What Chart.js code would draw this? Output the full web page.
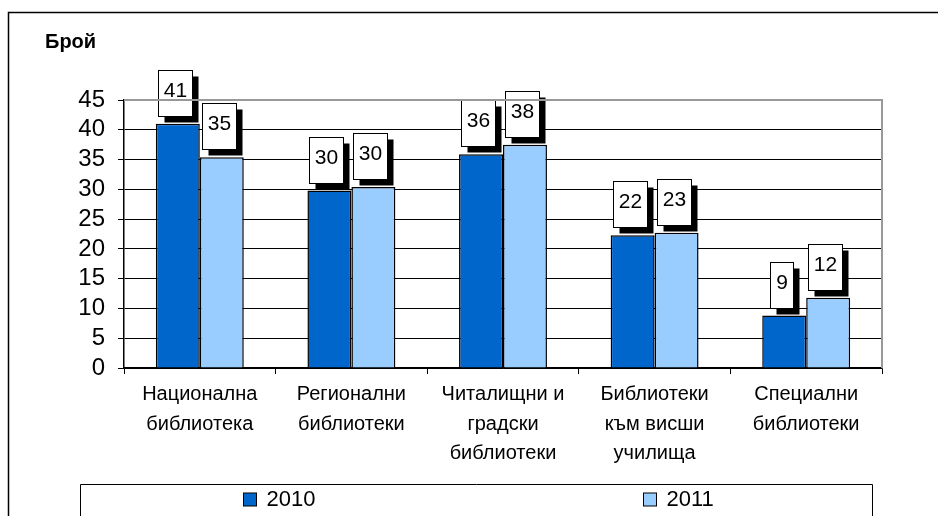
<!DOCTYPE html>
<html>
<head>
<meta charset="utf-8">
<script src="https://cdn.jsdelivr.net/npm/chart.js@4.4.0/dist/chart.umd.min.js"></script>
<style>
html,body{margin:0;padding:0;background:#fff;}
#wrap{width:938px;height:516px;position:relative;}
</style>
</head>
<body>
<div id="wrap"><canvas id="c" width="938" height="516"></canvas></div>
<script>
const categories = [
  ['Национална', 'библиотека'],
  ['Регионални', 'библиотеки'],
  ['Читалищни и', 'градски', 'библиотеки'],
  ['Библиотеки', 'към висши', 'училища'],
  ['Специални', 'библиотеки']
];
const seriesNames = ['2010', '2011'];
const values2010 = [41, 29.8, 35.9, 22.3, 8.8];
const values2011 = [35.4, 30.4, 37.5, 22.7, 11.8];
const labels2010 = ['41', '30', '36', '22', '9'];
const labels2011 = ['35', '30', '38', '23', '12'];
const yTicks = [0, 5, 10, 15, 20, 25, 30, 35, 40, 45];
const yTitle = 'Брой';

const FONT = '"Liberation Sans", Arial, sans-serif';
const colors = ['#0066CC', '#99CCFF'];
const pointLabels = [labels2010, labels2011];

const decor = {
  id: 'decor',
  beforeDraw(chart) {
    const ctx = chart.ctx;
    ctx.save();
    ctx.fillStyle = '#fff';
    ctx.fillRect(0, 0, chart.width, chart.height);
    ctx.restore();
  },
  afterDatasetsDraw(chart) {
    const ctx = chart.ctx;
    ctx.save();
    ctx.font = '21px ' + FONT;
    chart.data.datasets.forEach((ds, di) => {
      const meta = chart.getDatasetMeta(di);
      meta.data.forEach((bar, i) => {
        const txt = pointLabels[di][i];
        const tw = ctx.measureText(txt).width;
        const bw = Math.round(tw + 11);
        const bh = 46;
        const cx = bar.x - 3;
        const bx = Math.round(cx - bw / 2) + 0.5;
        const by = Math.round(bar.y - 8 - bh) + 0.5;
        ctx.fillStyle = '#000';
        ctx.fillRect(bx + 6, by + 6, bw, bh);
        ctx.fillStyle = '#fff';
        ctx.fillRect(bx, by, bw, bh);
        ctx.strokeStyle = '#000';
        ctx.lineWidth = 1;
        ctx.strokeRect(bx, by, bw, bh);
        ctx.fillStyle = '#000';
        ctx.textAlign = 'center';
        ctx.textBaseline = 'middle';
        ctx.fillText(txt, bx + bw / 2, by + bh / 2 - 2);
      });
    });
    ctx.restore();
  },
  afterDraw(chart) {
    const ctx = chart.ctx;
    const a = chart.chartArea;
    ctx.save();
    // plot border top/right gray
    ctx.strokeStyle = '#999';
    ctx.lineWidth = 2;
    ctx.beginPath();
    ctx.moveTo(a.left, a.top);
    ctx.lineTo(a.right, a.top);
    ctx.lineTo(a.right, a.bottom);
    ctx.stroke();
    // outer border
    ctx.strokeStyle = '#000';
    ctx.lineWidth = 1.5;
    ctx.beginPath();
    ctx.moveTo(8.5, chart.height);
    ctx.lineTo(8.5, 12.5);
    ctx.lineTo(chart.width, 12.5);
    ctx.stroke();
    // title
    ctx.fillStyle = '#000';
    ctx.font = 'bold 20px ' + FONT;
    ctx.textAlign = 'left';
    ctx.textBaseline = 'middle';
    ctx.fillText(yTitle, 45, 42);
    // legend box
    const lx0 = 80.5, lx1 = 872.5, ly = 484.5;
    ctx.lineWidth = 1;
    ctx.beginPath();
    ctx.moveTo(lx0, chart.height);
    ctx.lineTo(lx0, ly);
    ctx.lineTo(lx1, ly);
    ctx.lineTo(lx1, chart.height);
    ctx.stroke();
    ctx.font = '22px ' + FONT;
    const w = lx1 - lx0;
    seriesNames.forEach((name, i) => {
      const center = lx0 + w * (i * 2 + 1) / 4 + (i ? 4 : 0);
      const tw = ctx.measureText(name).width;
      const total = 13 + 10 + tw;
      const sx = Math.round(center - total / 2) + 0.5;
      const my = 499;
      ctx.fillStyle = colors[i];
      ctx.fillRect(sx, my - 6, 13, 13);
      ctx.strokeStyle = '#000';
      ctx.lineWidth = 1;
      ctx.strokeRect(sx, my - 6, 13, 13);
      ctx.fillStyle = '#000';
      ctx.textAlign = 'left';
      ctx.textBaseline = 'middle';
      ctx.fillText(name, sx + 23, my + 1);
    });
    ctx.restore();
  }
};

new Chart(document.getElementById('c'), {
  type: 'bar',
  data: {
    labels: categories,
    datasets: [
      { label: seriesNames[0], data: values2010, backgroundColor: colors[0], borderColor: '#000', borderWidth: 1.5 },
      { label: seriesNames[1], data: values2011, backgroundColor: colors[1], borderColor: '#000', borderWidth: 1.5 }
    ]
  },
  options: {
    responsive: false,
    animation: false,
    devicePixelRatio: 1,
    layout: { padding: { left: 0, right: 56, top: 100, bottom: 0 } },
    datasets: { bar: { categoryPercentage: 0.58, barPercentage: 1.0 } },
    plugins: { legend: { display: false }, tooltip: { enabled: false }, title: { display: false } },
    scales: {
      x: {
        grid: { display: true, drawOnChartArea: false, drawTicks: true, tickLength: 6, color: '#000', offset: true },
        border: { display: true, color: '#000', width: 1.5 },
        ticks: { color: '#000', font: { family: FONT, size: 20, lineHeight: 1.47 }, padding: 6, maxRotation: 0, autoSkip: false },
        afterFit(scale) { scale.height = 148; }
      },
      y: {
        min: 0, max: 45,
        afterBuildTicks(scale) { scale.ticks = yTicks.map(v => ({ value: v })); },
        grid: { color: '#000', lineWidth: 1, tickLength: 6, drawTicks: true },
        border: { display: true, color: '#000', width: 1.5 },
        ticks: { color: '#000', font: { family: FONT, size: 24 }, padding: 13, autoSkip: false },
        afterFit(scale) { scale.width = 124; }
      }
    }
  },
  plugins: [decor]
});
</script>
</body>
</html>
